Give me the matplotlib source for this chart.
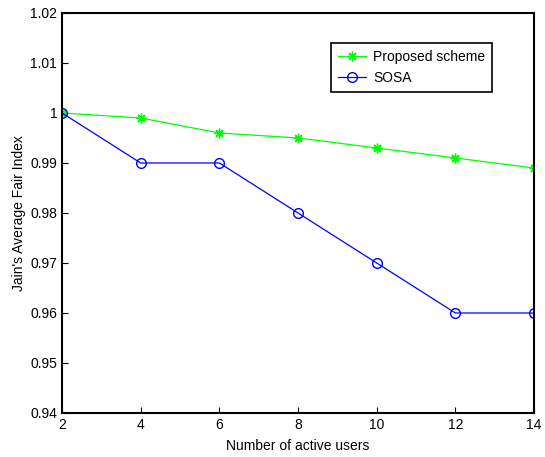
import matplotlib
matplotlib.use("Agg")
import matplotlib.pyplot as plt

# Data
users = [2, 4, 6, 8, 10, 12, 14]
proposed = [1.000, 0.999, 0.996, 0.995, 0.993, 0.991, 0.989]
sosa = [1.000, 0.990, 0.990, 0.980, 0.970, 0.960, 0.960]

plt.rcParams['font.family'] = ['Liberation Sans Narrow', 'Liberation Sans', 'DejaVu Sans']
plt.rcParams['font.size'] = 10

fig = plt.figure(figsize=(5.45, 4.57), dpi=100)
ax = fig.add_axes([0.1138, 0.0963, 0.8661, 0.8753])

ax.plot(users, proposed, color=(0, 1, 0), marker=(8, 2, 0), markersize=7,
        markeredgewidth=1.0, linewidth=0.9, label='Proposed scheme')
ax.plot(users, sosa, color=(0, 0, 1), marker='o', markersize=7, markerfacecolor='none',
        linewidth=0.9, label='SOSA')

ax.set_xlim(2, 14)
ax.set_ylim(0.94, 1.02)
ax.set_xticks(users)
ax.set_yticks([0.94, 0.95, 0.96, 0.97, 0.98, 0.99, 1.0, 1.01, 1.02])
ax.set_yticklabels(['0.94', '0.95', '0.96', '0.97', '0.98', '0.99', '1', '1.01', '1.02'])
ax.tick_params(direction='in', length=4, width=0.8, top=False, right=False, labelsize=10)
for s in ax.spines.values():
    s.set_linewidth(1.5)

ax.set_xlabel('Number of active users', fontsize=10, labelpad=5)
ax.set_ylabel("Jain's Average Fair Index", fontsize=10, labelpad=3)

leg = ax.legend(loc='upper right', bbox_to_anchor=(0.926, 0.9425), fancybox=False,
                edgecolor='black', framealpha=1, fontsize=10, handlelength=2.0,
                handletextpad=0.5, borderpad=0.5, labelspacing=0.5)
leg.get_frame().set_linewidth(1.2)

fig.savefig('out.png', dpi=100)
